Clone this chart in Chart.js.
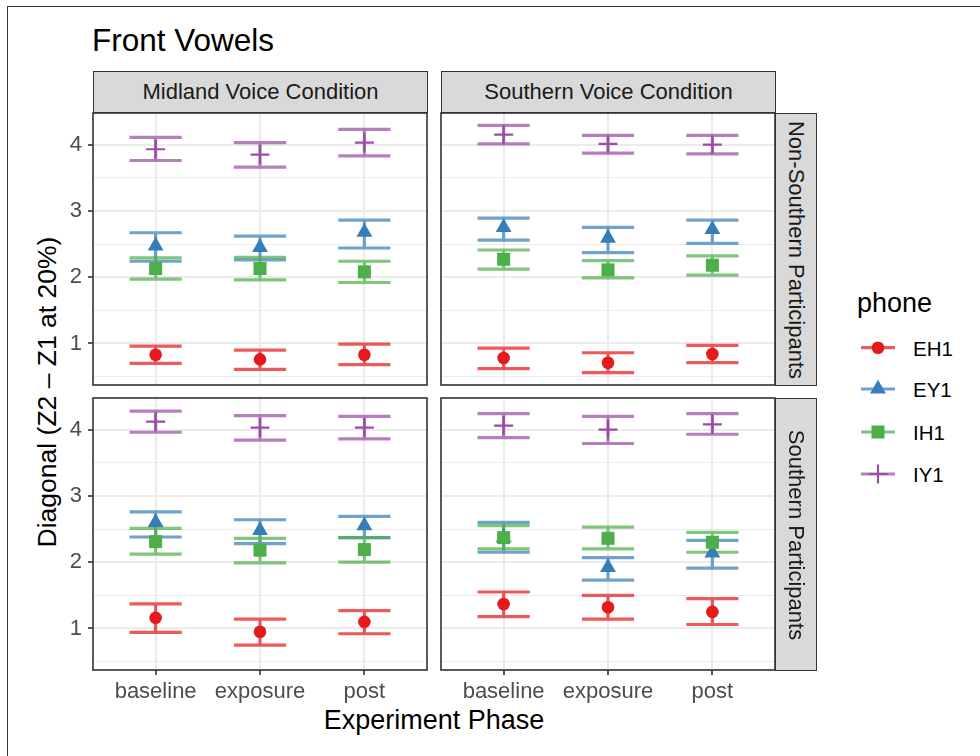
<!DOCTYPE html>
<html>
<head>
<meta charset="utf-8">
<script src="https://cdn.jsdelivr.net/npm/chart.js@4.4.1/dist/chart.umd.min.js"></script>
<style>
  html, body { margin: 0; padding: 0; background: #fff; }
  body { width: 980px; height: 756px; overflow: hidden; position: relative;
         font-family: 'Liberation Sans', Arial, Helvetica, sans-serif; }
  .abs { position: absolute; }
  .frame { left: 7px; top: 6px; width: 1100px; height: 900px; border: 1px solid #333; box-sizing: border-box; }
  .title { left: 92px; top: 25px; height: 30px; line-height: 30px; font-size: 31.5px; color: #000; white-space: nowrap; }
  .strip { background: #d9d9d9; border: 1.6px solid #333; box-sizing: border-box; color: #1a1a1a;
           font-size: 22px; text-align: center; white-space: nowrap; z-index: 2; }
  .strip.top { height: 42px; line-height: 40px; width: 335px; top: 71px; }
  .strip.right { width: 42px; height: 273px; left: 775px; }
  .strip.right span { position: absolute; left: 50%; top: 50%; width: 272px; height: 24px; line-height: 24px;
           margin-left: -136px; margin-top: -12px; transform: rotate(90deg); text-align: center; }
  .ytitle { left: -253px; top: 377px; width: 600px; height: 30px; line-height: 30px; font-size: 26.5px;
            text-align: center; transform: rotate(-90deg); color: #000; white-space: nowrap; }
  .xtitle { left: 134px; top: 705px; width: 600px; height: 30px; line-height: 30px; font-size: 27px;
            text-align: center; color: #000; white-space: nowrap; }
  .legtitle { left: 857px; top: 288px; height: 30px; line-height: 30px; font-size: 27px; color: #000; }
  .leglab { left: 913px; height: 24px; line-height: 24px; font-size: 20.5px; color: #000; }
  canvas { position: absolute; }
</style>
</head>
<body>
<div class="abs frame"></div>
<div class="abs title">Front Vowels</div>

<div class="abs strip top" style="left:93px;">Midland Voice Condition</div>
<div class="abs strip top" style="left:441px;">Southern Voice Condition</div>
<div class="abs strip right" style="top:113px;"><span>Non-Southern Participants</span></div>
<div class="abs strip right" style="top:398px;"><span>Southern Participants</span></div>

<div class="abs ytitle">Diagonal (Z2 – Z1 at 20%)</div>
<div class="abs xtitle">Experiment Phase</div>

<div class="abs legtitle">phone</div>
<canvas id="legendKeys" width="60" height="170" style="left:850px; top:330px;"></canvas>
<div id="legendLabels"></div>

<canvas id="p1"></canvas>
<canvas id="p2"></canvas>
<canvas id="p3"></canvas>
<canvas id="p4"></canvas>

<script>
// ---------------- DATA ----------------
const phases = ['baseline', 'exposure', 'post'];
const phones = ['EH1', 'EY1', 'IH1', 'IY1'];
const yTickValues = [1, 2, 3, 4];

// Rows follow `phones` order; columns follow `phases` order.
// Non-Southern participants, Midland voice condition
const nsMid_mean = [[0.83, 0.76, 0.83], [2.47, 2.45, 2.68], [2.13, 2.13, 2.08], [3.93, 3.85, 4.03]];
const nsMid_lo   = [[0.70, 0.61, 0.68], [2.24, 2.26, 2.44], [1.97, 1.96, 1.92], [3.76, 3.66, 3.83]];
const nsMid_hi   = [[0.96, 0.90, 0.99], [2.67, 2.62, 2.86], [2.29, 2.30, 2.24], [4.11, 4.03, 4.23]];

// Non-Southern participants, Southern voice condition
const nsSouth_mean = [[0.78, 0.71, 0.84], [2.75, 2.59, 2.72], [2.27, 2.11, 2.18], [4.15, 4.01, 4.00]];
const nsSouth_lo   = [[0.62, 0.56, 0.71], [2.56, 2.37, 2.51], [2.12, 1.99, 2.03], [4.01, 3.87, 3.86]];
const nsSouth_hi   = [[0.93, 0.86, 0.97], [2.89, 2.75, 2.86], [2.41, 2.25, 2.32], [4.29, 4.14, 4.14]];

// Southern participants, Midland voice condition
const sMid_mean = [[1.16, 0.95, 1.10], [2.60, 2.48, 2.55], [2.31, 2.18, 2.19], [4.12, 4.03, 4.03]];
const sMid_lo   = [[0.94, 0.75, 0.92], [2.38, 2.28, 2.37], [2.12, 1.99, 2.00], [3.96, 3.84, 3.86]];
const sMid_hi   = [[1.37, 1.14, 1.27], [2.76, 2.64, 2.69], [2.51, 2.36, 2.37], [4.28, 4.21, 4.20]];

// Southern participants, Southern voice condition
const sSouth_mean = [[1.37, 1.32, 1.25], [2.37, 1.92, 2.14], [2.37, 2.36, 2.30], [4.06, 4.00, 4.08]];
const sSouth_lo   = [[1.18, 1.14, 1.06], [2.15, 1.73, 1.91], [2.20, 2.20, 2.15], [3.88, 3.79, 3.93]];
const sSouth_hi   = [[1.55, 1.50, 1.45], [2.60, 2.07, 2.33], [2.55, 2.53, 2.45], [4.24, 4.20, 4.24]];

// ---------------- STYLE ----------------
const colors = ['#E41A1C', '#377EB8', '#4DAF4A', '#984EA3'];
const barColors = ['rgba(228,26,28,0.72)', 'rgba(55,126,184,0.72)', 'rgba(77,175,74,0.72)', 'rgba(152,78,163,0.72)'];
const shapes = ['circle', 'triangle', 'rect', 'cross'];
const radii = [6.3, 9.2, 9.2, 9.5];
const capHalf = 0.25;
const PW = 334, PH = 272, PAD = 4;

Chart.defaults.font.family = "'Liberation Sans', Arial, Helvetica, sans-serif";

// shared y range (ggplot-like 5% expansion over all panels)
const allLo = [nsMid_lo, nsSouth_lo, sMid_lo, sSouth_lo].flat(2);
const allHi = [nsMid_hi, nsSouth_hi, sMid_hi, sSouth_hi].flat(2);
const dMin = Math.min(...allLo), dMax = Math.max(...allHi);
const yMin = dMin - 0.05 * (dMax - dMin), yMax = dMax + 0.05 * (dMax - dMin);

function errorbarPoints(lo, hi) {
  const pts = [];
  lo.forEach((l, i) => {
    const x = i + 1, h = hi[i];
    pts.push({x: x - capHalf, y: h}, {x: x + capHalf, y: h}, {x: x, y: null},
             {x: x, y: h}, {x: x, y: l}, {x: x, y: null},
             {x: x - capHalf, y: l}, {x: x + capHalf, y: l}, {x: x + capHalf, y: null});
  });
  return pts;
}

const borderPlugin = {
  id: 'panelBorder',
  afterDraw(chart) {
    const a = chart.chartArea, c = chart.ctx;
    c.save();
    c.strokeStyle = '#333333';
    c.lineWidth = 1.6;
    c.strokeRect(a.left, a.top, a.right - a.left, a.bottom - a.top);
    c.restore();
  }
};

function makePanel(id, left, top, mean, lo, hi, showY, showX) {
  const yW = showY ? 58 : 0;
  const xH = showX ? 42 : 0;
  const cv = document.getElementById(id);
  cv.width = PW + 2 * PAD + yW;
  cv.height = PH + 2 * PAD + xH;
  cv.style.left = (left - PAD - yW) + 'px';
  cv.style.top = (top - PAD) + 'px';

  const datasets = [];
  phones.forEach((p, k) => {
    datasets.push({
      label: p + ' mean', data: mean[k].map((m, i) => ({x: i + 1, y: m})),
      showLine: false, pointStyle: shapes[k], pointRadius: radii[k],
      pointBackgroundColor: colors[k], pointBorderColor: colors[k],
      pointBorderWidth: shapes[k] === 'cross' ? 2.2 : 0,
      order: 4 - k
    });
  });
  phones.forEach((p, k) => {
    datasets.push({
      label: p + ' errorbar', data: errorbarPoints(lo[k], hi[k]),
      showLine: true, borderColor: barColors[k], borderWidth: 3.2,
      pointRadius: 0, fill: false, tension: 0, spanGaps: false,
      order: 8 - k
    });
  });

  const isInt = v => Math.abs(v - Math.round(v)) < 1e-9;

  return new Chart(cv, {
    type: 'line',
    data: { datasets },
    plugins: [borderPlugin],
    options: {
      responsive: false, animation: false, devicePixelRatio: 1,
      layout: { padding: PAD, autoPadding: false },
      plugins: { legend: { display: false }, tooltip: { enabled: false } },
      scales: {
        x: {
          type: 'linear', min: 0.4, max: 3.6,
          afterBuildTicks: s => { s.ticks = phases.map((_, i) => ({value: i + 1})); },
          afterFit: s => { s.height = xH; s.paddingLeft = 0; s.paddingRight = 0; s.paddingTop = 0; s.paddingBottom = 0; },
          border: { display: false },
          grid: { color: '#ebebeb', lineWidth: 2, drawTicks: showX, tickLength: 5, tickColor: '#333333', tickWidth: 1.6 },
          ticks: { display: showX, padding: 4, color: '#4d4d4d', font: { size: 22 },
                   maxRotation: 0, autoSkip: false,
                   callback: v => phases[Math.round(v) - 1] }
        },
        y: {
          type: 'linear', min: yMin, max: yMax,
          afterBuildTicks: s => {
            const t = [];
            for (let v = 0.5; v <= 4.5 + 1e-9; v += 0.5) if (v >= yMin && v <= yMax) t.push({value: v});
            s.ticks = t;
          },
          afterFit: s => { s.width = yW; s.paddingLeft = 0; s.paddingRight = 0; s.paddingTop = 0; s.paddingBottom = 0; },
          border: { display: false },
          grid: {
            color: '#ebebeb',
            lineWidth: c => (c.tick && isInt(c.tick.value)) ? 2 : 1,
            drawTicks: showY, tickLength: 5,
            tickColor: c => (c.tick && isInt(c.tick.value)) ? '#333333' : 'rgba(0,0,0,0)',
            tickWidth: 1.6
          },
          ticks: { display: showY, padding: 6, color: '#4d4d4d', font: { size: 22 }, autoSkip: false,
                   callback: v => yTickValues.includes(v) ? String(v) : '' }
        }
      }
    }
  });
}

makePanel('p1', 93, 113, nsMid_mean, nsMid_lo, nsMid_hi, true, false);
makePanel('p2', 441, 113, nsSouth_mean, nsSouth_lo, nsSouth_hi, false, false);
makePanel('p3', 93, 398, sMid_mean, sMid_lo, sMid_hi, true, true);
makePanel('p4', 441, 398, sSouth_mean, sSouth_lo, sSouth_hi, false, true);

// ---------------- LEGEND ----------------
(function drawLegend() {
  const cv = document.getElementById('legendKeys');
  const c = cv.getContext('2d');
  const rowY = [347.7, 389, 432, 474];
  const ox = 850, oy = 330;
  const labels = document.getElementById('legendLabels');
  phones.forEach((p, k) => {
    const cy = rowY[k] - oy, cx = 878 - ox;
    c.strokeStyle = barColors[k];
    c.lineWidth = 3.2;
    c.beginPath(); c.moveTo(861 - ox, cy); c.lineTo(895 - ox, cy); c.stroke();
    c.fillStyle = colors[k]; c.strokeStyle = colors[k];
    const r = radii[k];
    if (shapes[k] === 'circle') { c.beginPath(); c.arc(cx, cy, r, 0, Math.PI * 2); c.fill(); }
    else if (shapes[k] === 'triangle') {
      c.beginPath();
      c.moveTo(cx, cy - r);
      c.lineTo(cx + Math.sin(2 * Math.PI / 3) * r, cy + 0.5 * r);
      c.lineTo(cx - Math.sin(2 * Math.PI / 3) * r, cy + 0.5 * r);
      c.closePath(); c.fill();
    } else if (shapes[k] === 'rect') { const s = r * Math.SQRT1_2; c.fillRect(cx - s, cy - s, 2 * s, 2 * s); }
    else { c.lineWidth = 2.2; c.beginPath(); c.moveTo(cx - r, cy); c.lineTo(cx + r, cy); c.moveTo(cx, cy - r); c.lineTo(cx, cy + r); c.stroke(); }
    const d = document.createElement('div');
    d.className = 'abs leglab';
    d.style.top = (rowY[k] - 12 + 1) + 'px';
    d.textContent = p;
    labels.appendChild(d);
  });
})();
</script>
</body>
</html>
